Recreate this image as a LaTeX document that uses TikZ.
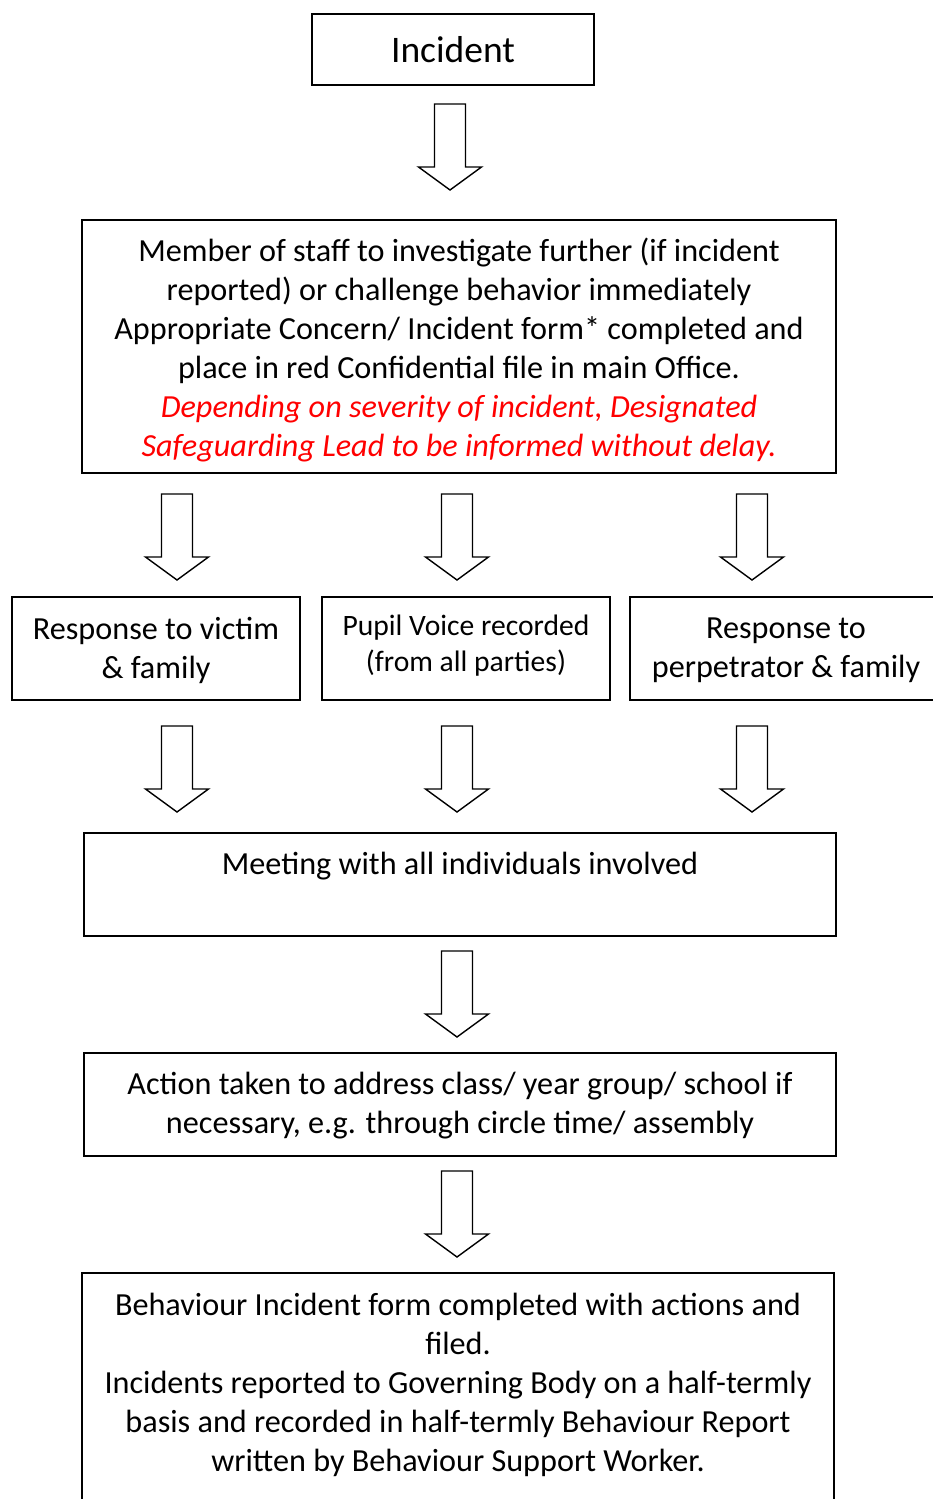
\documentclass[tikz,border=0pt]{standalone}
\usepackage{fontspec}
\setmainfont{Carlito}
\tikzset{
  box/.style={draw=black, line width=1.6pt, rectangle, inner sep=0pt},
  txt/.style={align=center, inner sep=0pt, font=\fontsize{32.2}{39}\selectfont},
  blockarrow/.pic={
    \draw[line width=1.4pt, line join=miter, fill=white]
      (-15.5,0) -- (15.5,0) -- (15.5,63) -- (31.5,63) -- (0,86) -- (-31.5,63) -- (-15.5,63) -- cycle;
  }
}
\begin{document}
\begin{tikzpicture}[x=1pt,y=-1pt]
\useasboundingbox[fill=white] (0,0) rectangle (932,1499);
% boxes
\node[box, minimum width=282pt, minimum height=71pt] (incident) at (453,49.5) {};
\node[txt, font=\fontsize{37.5}{44}\selectfont] (tincident) at (453,50) {Incident};

\node[box, minimum width=754pt, minimum height=253pt] (staff) at (459,346.5) {};
\node[txt] (tstaff) at (459,350) {Member of staff to investigate further (if incident\\
reported) or challenge behavior immediately\\
Appropriate Concern/ Incident form* completed and\\
place in red Confidential file in main Office.\\
\color{red}\itshape Depending on severity of incident, Designated\\
\color{red}\itshape Safeguarding Lead to be informed without delay.};

\node[box, minimum width=288pt, minimum height=103pt] (victim) at (156,648.5) {};
\node[txt] (tvictim) at (156,650) {Response to victim\\ \& family};

\node[box, minimum width=288pt, minimum height=103pt] (voice) at (466,648.5) {};
\node[txt, font=\fontsize{29.6}{36}\selectfont] (tvoice) at (466,646) {Pupil Voice recorded\\(from all parties)};

\node[box, minimum width=310pt, minimum height=103pt] (perp) at (785,648.5) {};
\node[txt] (tperp) at (786,650) {Response to\\perpetrator \& family};

\node[box, minimum width=752pt, minimum height=103pt] (meeting) at (460,884.5) {};
\node[txt] (tmeeting) at (460,866) {Meeting with all individuals involved};

\node[box, minimum width=752pt, minimum height=103pt] (action) at (460,1104.5) {};
\node[txt] (taction) at (460,1106) {Action taken to address class/ year group/ school if\\
necessary, e.g. through circle time/ assembly};

\node[box, minimum width=752pt, minimum height=240pt] (final) at (458,1393) {};
\node[txt] (tfinal) at (458,1384.5) {Behaviour Incident form completed with actions and\\
filed.\\
Incidents reported to Governing Body on a half-termly\\
basis and recorded in half-termly Behaviour Report\\
written by Behaviour Support Worker.};

% arrows
\pic at (450,104) {blockarrow};
\pic at (177,494) {blockarrow};
\pic at (457,494) {blockarrow};
\pic at (752,494) {blockarrow};
\pic at (177,726) {blockarrow};
\pic at (457,726) {blockarrow};
\pic at (752,726) {blockarrow};
\pic at (457,951) {blockarrow};
\pic at (457,1171) {blockarrow};
\end{tikzpicture}
\end{document}
